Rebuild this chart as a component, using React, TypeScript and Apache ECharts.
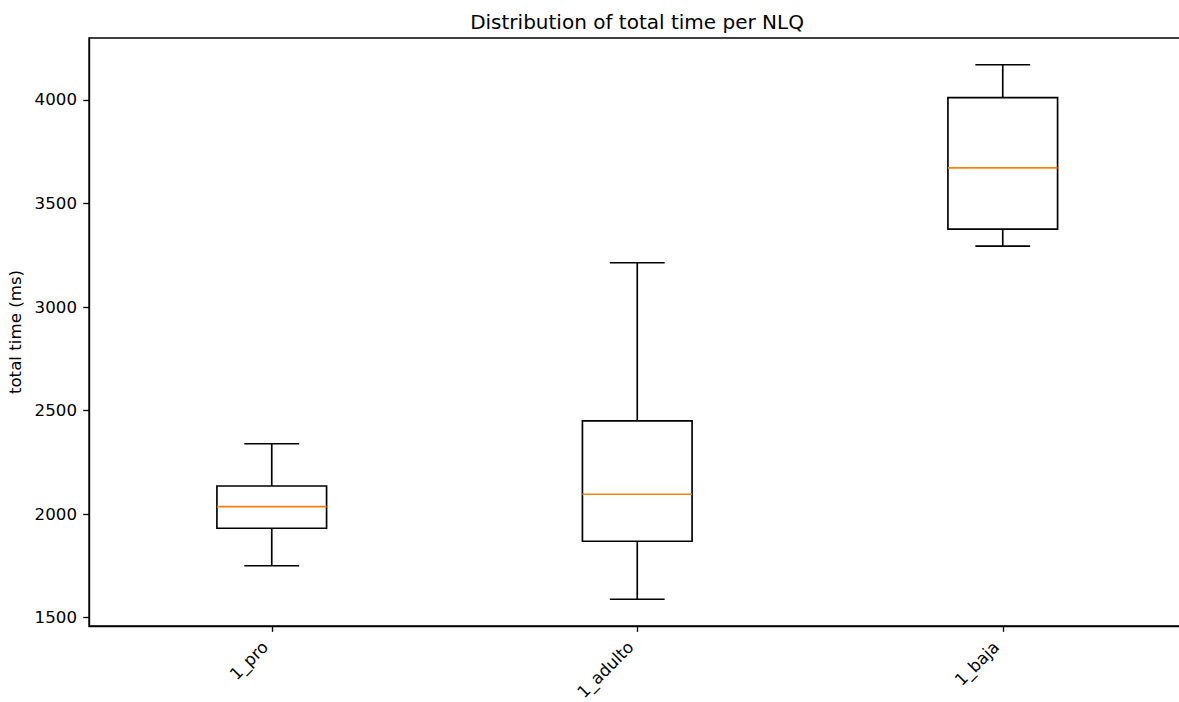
import React, { useEffect, useRef } from "react";
import * as echarts from "echarts";

const categories = ["1_pro", "1_adulto", "1_baja"];
const lowerWhisker = [1751, 1589, 3294];
const q1Values = [1932, 1869, 3376];
const medianValues = [2036, 2096, 3672];
const q3Values = [2136, 2450, 4011];
const upperWhisker = [2340, 3214, 4170];
const yTicks = [1500, 2000, 2500, 3000, 3500, 4000];

const FONT = "DejaVu Sans";

export default function App() {
  const ref = useRef<HTMLDivElement>(null);
  useEffect(() => {
    if (!ref.current) return;
    const chart = echarts.init(ref.current, null, { renderer: "svg" });
    const data = categories.map((_, i) => [
      i,
      lowerWhisker[i],
      q1Values[i],
      medianValues[i],
      q3Values[i],
      upperWhisker[i],
    ]);
    const lw = 1.67;
    chart.setOption({
      animation: false,
      backgroundColor: "#fff",
      textStyle: { fontFamily: FONT },
      grid: {
        left: 89,
        right: -6.5,
        top: 38,
        bottom: 76,
        show: true,
        borderColor: "#000",
        borderWidth: 1.33,
        outerBoundsMode: "none",
        containLabel: false,
      },
      graphic: [
        {
          type: "text",
          x: 637,
          y: 21.5,
          style: {
            text: "Distribution of total time per NLQ",
            fontFamily: FONT,
            fontSize: 20,
            fill: "#000",
            textAlign: "center",
            textVerticalAlign: "middle",
          },
        },
      ],
      xAxis: {
        type: "category",
        data: categories,
        boundaryGap: true,
        axisLine: { show: true, lineStyle: { color: "#000", width: 1.33 } },
        axisTick: { show: true, alignWithLabel: true, length: 5.8, lineStyle: { color: "#000", width: 1.33 } },
        axisLabel: {
          rotate: 45,
          margin: 12,
          padding: [0, 9, 0, 0],
          fontFamily: FONT,
          fontSize: 16.67,
          color: "#000",
        },
        splitLine: { show: false },
      },
      yAxis: {
        type: "value",
        min: 1460,
        max: 4299,
        splitNumber: 5,
        name: "total time (ms)",
        nameLocation: "middle",
        nameGap: 51,
        nameTextStyle: { fontFamily: FONT, fontSize: 16.67, color: "#000" },
        axisLine: { show: true, lineStyle: { color: "#000", width: 1.33 } },
        axisTick: { show: true, length: 5.8, customValues: yTicks, lineStyle: { color: "#000", width: 1.33 } },
        axisLabel: {
          customValues: yTicks,
          formatter: (v: number) => String(v),
          margin: 12,
          fontFamily: FONT,
          fontSize: 16.67,
          color: "#000",
        },
        splitLine: { show: false },
      },
      series: [
        {
          type: "custom",
          data,
          encode: { x: 0, y: [1, 2, 3, 4, 5] },
          renderItem: (params: any, api: any) => {
            const idx = api.value(0);
            const lo = api.coord([idx, api.value(1)]);
            const q1 = api.coord([idx, api.value(2)]);
            const med = api.coord([idx, api.value(3)]);
            const q3 = api.coord([idx, api.value(4)]);
            const hi = api.coord([idx, api.value(5)]);
            const band = api.size([1, 0])[0];
            const bw = band * 0.3;
            const cw = bw / 2;
            const cx = med[0];
            const stroke = { stroke: "#000", lineWidth: lw, fill: "none" };
            return {
              type: "group",
              children: [
                { type: "line", shape: { x1: cx, y1: lo[1], x2: cx, y2: q1[1] }, style: stroke },
                { type: "line", shape: { x1: cx, y1: q3[1], x2: cx, y2: hi[1] }, style: stroke },
                { type: "line", shape: { x1: cx - cw / 2, y1: lo[1], x2: cx + cw / 2, y2: lo[1] }, style: stroke },
                { type: "line", shape: { x1: cx - cw / 2, y1: hi[1], x2: cx + cw / 2, y2: hi[1] }, style: stroke },
                {
                  type: "rect",
                  shape: { x: cx - bw / 2, y: q3[1], width: bw, height: q1[1] - q3[1] },
                  style: { stroke: "#000", lineWidth: lw, fill: "none" },
                },
                {
                  type: "line",
                  shape: { x1: cx - bw / 2, y1: med[1], x2: cx + bw / 2, y2: med[1] },
                  style: { stroke: "#ff7f0e", lineWidth: lw },
                },
              ],
            };
          },
        },
      ],
    });
    return () => chart.dispose();
  }, []);
  return (
    <div
      ref={ref}
      style={{ position: "absolute", left: 0, top: 0, width: 1179, height: 702 }}
    />
  );
}
